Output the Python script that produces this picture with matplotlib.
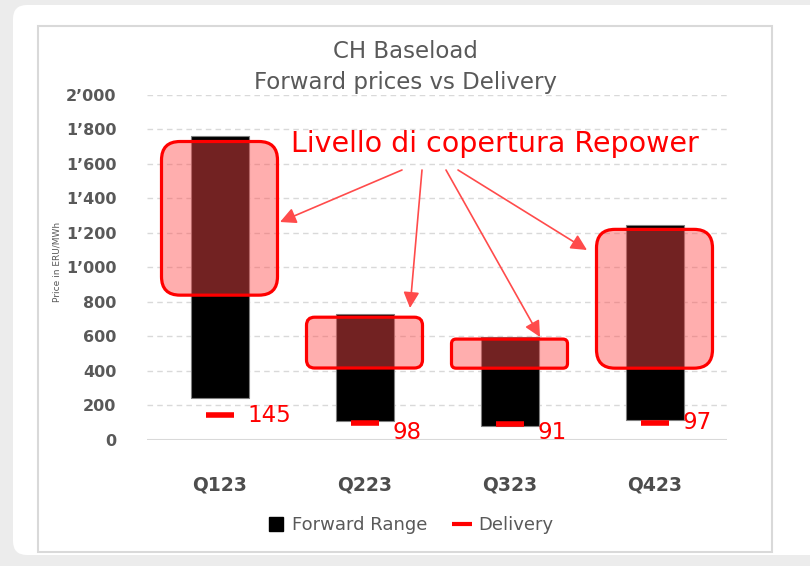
import numpy as np
import matplotlib
matplotlib.use('Agg')
import matplotlib.pyplot as plt
from matplotlib.patches import FancyBboxPatch
from matplotlib.lines import Line2D
from matplotlib.ticker import FuncFormatter

# data
quarters = ['Q123', 'Q223', 'Q323', 'Q423']
fwd_low = [240, 107, 80, 113]
fwd_high = [1760, 727, 594, 1243]
delivery = [145, 98, 91, 97]
hedge_low = [838, 415, 414, 414]
hedge_high = [1730, 710, 583, 1220]

W, H = 810, 566
fig = plt.figure(figsize=(W / 100, H / 100), dpi=100)
fig.patch.set_facecolor('#ECECEC')

# white card + inner frame
card = FancyBboxPatch((13, 11), W + 40, H - 16, boxstyle='round,pad=0,rounding_size=14',
                      transform=None, facecolor='white', edgecolor='none', zorder=-2)
fig.patches.append(card)
frame = plt.Rectangle((38, H - 552), 772 - 38, 552 - 26, transform=None,
                      facecolor='white', edgecolor='#D9D9D9', lw=1.5, zorder=-1)
fig.patches.append(frame)

ax_l, ax_r, ax_top, ax_bot = 147, 727, 95, 439.5
ax = fig.add_axes([ax_l / W, 1 - ax_bot / H, (ax_r - ax_l) / W, (ax_bot - ax_top) / H])
ax.set_zorder(2)
ax.set_facecolor('none')
ax.set_xlim(-0.5, 3.5)
ax.set_ylim(0, 2000)

x = np.arange(len(quarters))
ax.set_yticks(np.arange(0, 2001, 200))
for v in np.arange(200, 2001, 200):
    ax.axhline(v, color='#D9D9D9', lw=1, ls=(0, (4, 3)), zorder=1)
ax.axhline(0, color='#D9D9D9', lw=1.5, zorder=1)
for s in ax.spines.values():
    s.set_visible(False)

ax.yaxis.set_major_formatter(FuncFormatter(lambda v, p: f'{int(v):,}'.replace(',', '\u2019')))
ax.tick_params(axis='y', length=0, pad=22, labelsize=11.5, labelcolor='#595959')
ax.tick_params(axis='x', length=0, pad=26, labelsize=13.5, labelcolor='#4D4D4D')
ax.set_xticks(x)
ax.set_xticklabels(quarters)
for t in ax.get_xticklabels() + ax.get_yticklabels():
    t.set_fontweight('bold')

# forward range bars
ax.bar(x, np.array(fwd_high) - np.array(fwd_low), bottom=fwd_low, width=0.4,
       color='black', edgecolor='#7F7F7F', lw=0.8, zorder=2)

# delivery
ax.plot(x, delivery, ls='none', marker='_', ms=20, mew=4, color='#FF0000', zorder=4)
label_y = [142, 38, 38, 96]
for xi, d, ly in zip(x, delivery, label_y):
    ax.text(xi + 0.19, ly, str(d), color='#FF0000', fontsize=16.5, ha='left', va='center', zorder=5)

# hedge boxes (rounded)
px_w = ax_r - ax_l
px_h = ax_bot - ax_top
xu = 4 / px_w
yu = 2000 / px_h
aspect = yu / xu
for xi, lo, hi in zip(x, hedge_low, hedge_high):
    w = 0.8
    hpx = (hi - lo) / yu
    r = 0.16 * min(w / xu, hpx) * xu
    box = FancyBboxPatch((xi - w / 2, lo), w, hi - lo,
                         boxstyle=f'round,pad=0,rounding_size={r}', mutation_aspect=aspect,
                         facecolor=(1, 0.3, 0.3, 0.45), edgecolor='#FF0000', lw=2.3, zorder=3)
    ax.add_patch(box)


def to_data(px, py):
    return ((px - ax_l) * xu - 0.5, (ax_bot - py) * yu)


# annotation
ax.text(*to_data(495, 144), 'Livello di copertura Repower', color='#FF0000', fontsize=20.5,
        ha='center', va='center', zorder=6)

arrows = [((402, 170), (280, 222)), ((422, 170), (410, 308)),
          ((446, 170), (540, 337)), ((458, 170), (587, 250))]
for start, end in arrows:
    ax.annotate('', xy=to_data(*end), xytext=to_data(*start),
                arrowprops=dict(arrowstyle='-|>', color='#FF4B4B', lw=1.2,
                                mutation_scale=24, shrinkA=0, shrinkB=0), zorder=6)

# titles
fig.text(405 / W, 1 - 52 / H, 'CH Baseload', ha='center', va='center', fontsize=16.5, color='#595959')
fig.text(405 / W, 1 - 83 / H, 'Forward prices vs Delivery', ha='center', va='center', fontsize=16.5, color='#595959')
fig.text(57 / W, 1 - 262 / H, 'Price in ERU/MWh', rotation=90, ha='center', va='center',
         fontsize=6.5, color='#595959')

# legend
handles = [Line2D([], [], ls='none', marker='s', ms=10.5, color='black'),
           Line2D([], [], ls='none', marker='_', ms=15, mew=3, color='#FF0000')]
leg = fig.legend(handles, ['Forward Range', 'Delivery'], loc='center', ncol=2, frameon=False,
                 bbox_to_anchor=(410 / W, 1 - 525 / H), handlelength=1, handletextpad=0.4,
                 columnspacing=1.4, fontsize=13)
for t in leg.get_texts():
    t.set_color('#595959')

fig.savefig('out.png', dpi=100, facecolor=fig.get_facecolor())
